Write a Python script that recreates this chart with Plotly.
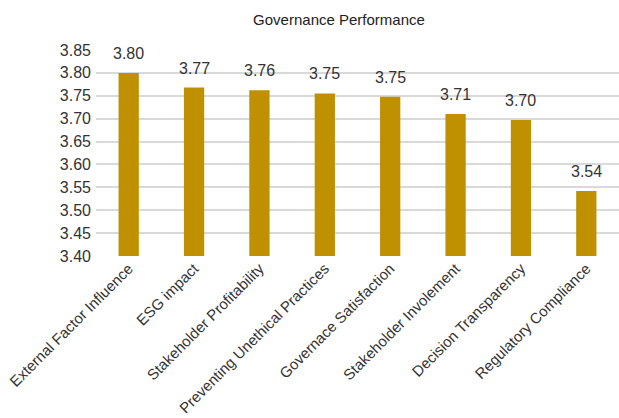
import plotly.graph_objects as go

categories = ["External Factor Influence", "ESG impact", "Stakeholder Profitability",
              "Preventing Unethical Practices", "Governace Satisfaction",
              "Stakeholder Involement", "Decision Transparency", "Regulatory Compliance"]
values = [3.800, 3.768, 3.762, 3.755, 3.748, 3.710, 3.697, 3.542]
y_ticks = [3.40, 3.45, 3.50, 3.55, 3.60, 3.65, 3.70, 3.75, 3.80, 3.85]

font_family = "Liberation Sans, Arial, sans-serif"

fig = go.Figure(go.Bar(
    x=categories, y=values,
    marker=dict(color="#BF9000", line=dict(width=0)),
    hoverinfo="x+y",
))

for c, v in zip(categories, values):
    fig.add_annotation(x=c, y=v, text=f"{v:.2f}", showarrow=False,
                       yanchor="bottom", yshift=9,
                       font=dict(family=font_family, size=16, color="#333333"))

fig.update_layout(
    width=619, height=418,
    margin=dict(l=96, r=0, t=50, b=162),
    paper_bgcolor="white", plot_bgcolor="white",
    bargap=0.69,
    showlegend=False,
    title=dict(text="Governance Performance", x=339/619, xanchor="center",
               y=1 - 20/418, yanchor="middle",
               font=dict(family=font_family, size=15, color="#222222")),
    font=dict(family=font_family, color="#333333"),
)
fig.update_yaxes(range=[3.40, 3.85], tickvals=y_ticks, ticktext=[f"{t:.2f}" for t in y_ticks],
                 showgrid=True, gridcolor="#D9D9D9", gridwidth=2, zeroline=False,
                 showline=False, tickfont=dict(size=16, color="#333333"), ticks="",
                 ticklabelstandoff=4, automargin=False)
fig.update_xaxes(tickangle=-45, tickfont=dict(size=15, color="#333333"), showline=False,
                 showgrid=False, ticks="", automargin=False)

fig.write_html("out.html")
